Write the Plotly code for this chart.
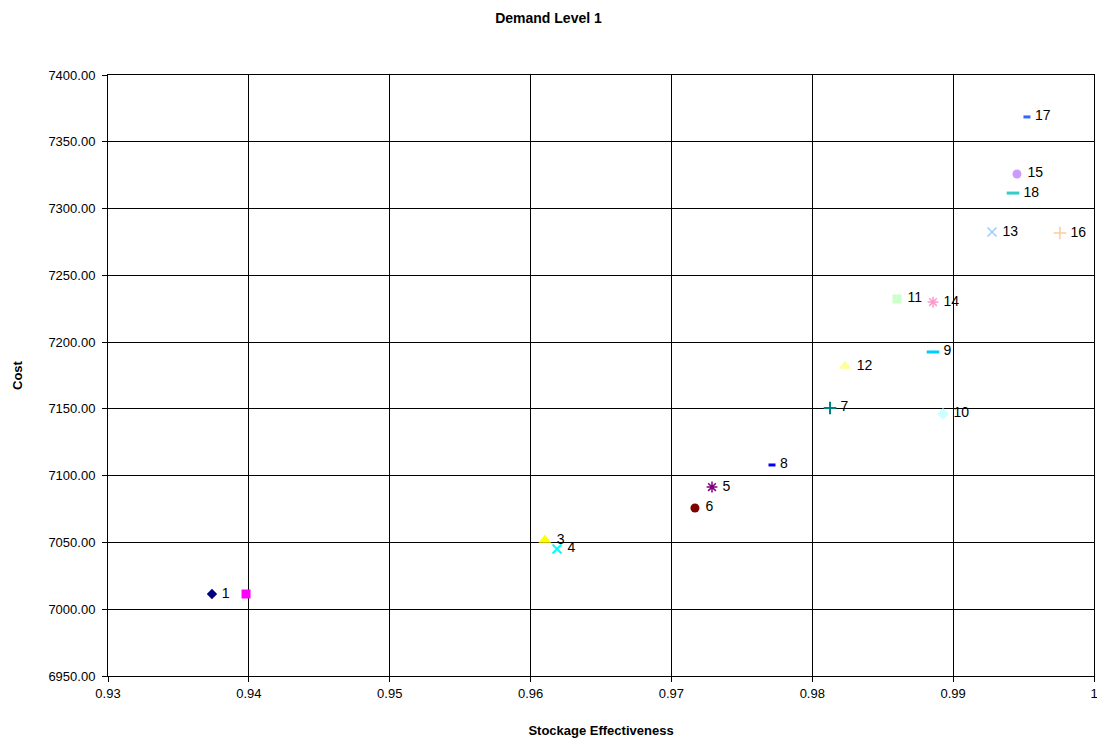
import plotly.graph_objects as go

# Stockage effectiveness vs cost for each numbered option
labels = ["1", "2", "3", "4", "5", "6", "7", "8", "9", "10",
          "11", "12", "13", "14", "15", "16", "17", "18"]
effectiveness = [0.93738, 0.93980, 0.96102, 0.96188, 0.97288, 0.97167, 0.98126, 0.97714, 0.98857,
                 0.98928, 0.98601, 0.98232, 0.99276, 0.98857, 0.99453, 0.99758, 0.99524, 0.99425]
cost = [7011.4, 7011.4, 7051.8, 7045.1, 7091.5, 7075.8, 7150.7, 7108.0, 7192.6,
        7146.2, 7232.3, 7182.1, 7282.4, 7230.0, 7325.9, 7281.7, 7368.6, 7311.6]
show_label = [True, False] + [True] * 16

x_ticks = [0.93, 0.94, 0.95, 0.96, 0.97, 0.98, 0.99, 1.0]
x_tick_text = ["0.93", "0.94", "0.95", "0.96", "0.97", "0.98", "0.99", "1"]

# marker style per series: (symbol, colour, size, line width)
styles = [
    ("diamond", "#000080", 8, 0),
    ("square", "#FF00FF", 9, 0),
    ("triangle-up", "#FFFF00", 11, 0),
    ("x-thin-open", "#00FFFF", 9, 2),
    ("asterisk-open", "#800080", 9, 1.5),
    ("circle", "#800000", 9, 0),
    ("cross-thin-open", "#008080", 9, 2),
    ("line-ew-open", "#0000FF", 5, 3),
    ("line-ew-open", "#00CCFF", 9, 3),
    ("diamond", "#CCFFFF", 9, 0),
    ("square", "#CCFFCC", 9, 0),
    ("triangle-up", "#FFFF99", 11, 0),
    ("x-thin-open", "#99CCFF", 9, 1.5),
    ("asterisk-open", "#FF99CC", 9, 1.5),
    ("circle", "#CC99FF", 9, 0),
    ("cross-thin-open", "#FFCC99", 9, 1.5),
    ("line-ew-open", "#3366FF", 5, 3),
    ("line-ew-open", "#33CCCC", 9, 3),
]

fig = go.Figure()
for i, (sym, col, size, lw) in enumerate(styles):
    fig.add_trace(go.Scatter(
        x=[effectiveness[i]], y=[cost[i]],
        mode="markers+text" if show_label[i] else "markers",
        text=["\u00a0" + labels[i]] if show_label[i] else None,
        textposition="middle right",
        textfont=dict(family="Arial, Liberation Sans", size=14, color="black"),
        marker=dict(symbol=sym, color=col, size=size,
                    line=dict(color=col, width=lw)),
        name=labels[i], showlegend=False, cliponaxis=False,
    ))

axis_font = dict(family="Arial, Liberation Sans", size=13, color="black")
fig.update_layout(
    width=1097, height=740,
    margin=dict(l=108, r=3, t=75, b=64),
    paper_bgcolor="white", plot_bgcolor="white",
    title=dict(text="<b>Demand Level 1</b>", x=0.5, xanchor="center",
               y=0.975, yanchor="middle",
               font=dict(family="Arial, Liberation Sans", size=14, color="black")),
    font=axis_font,
)
fig.update_xaxes(
    range=[0.93, 1.0], tickvals=x_ticks, ticktext=x_tick_text,
    ticklabeloverflow="allow", automargin=False,
    showgrid=True, gridcolor="black", gridwidth=1,
    showline=True, linecolor="black", linewidth=1, mirror=True,
    ticks="outside", ticklen=5, tickcolor="black", zeroline=False,
    tickfont=axis_font,
    title=dict(text="<b>Stockage Effectiveness</b>", standoff=26,
               font=dict(family="Arial, Liberation Sans", size=13, color="black")),
)
fig.update_yaxes(
    range=[6950, 7400], dtick=50, tick0=6950, tickformat=".2f",
    ticklabelstandoff=4, automargin=False,
    showgrid=True, gridcolor="black", gridwidth=1,
    showline=True, linecolor="black", linewidth=1, mirror=True,
    ticks="outside", ticklen=5, tickcolor="black", zeroline=False,
    tickfont=axis_font,
    title=dict(text="<b>Cost</b>", standoff=22,
               font=dict(family="Arial, Liberation Sans", size=13, color="black")),
)

fig.write_html("out.html")
